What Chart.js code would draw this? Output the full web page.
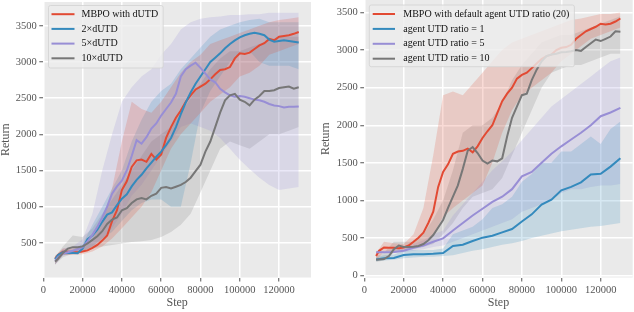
<!DOCTYPE html>
<html>
<head>
<meta charset="utf-8">
<script src="https://cdn.jsdelivr.net/npm/chart.js@4.4.0/dist/chart.umd.min.js"></script>
<style>
  html, body { margin: 0; padding: 0; background: #fff; }
  #wrap { position: relative; width: 634px; height: 312px; }
  .panel { position: absolute; top: 0; width: 317px; height: 312px; }
</style>
</head>
<body>
<div id="wrap">
  <div class="panel" style="left:0"><canvas id="leftChart" width="317" height="312"></canvas></div>
  <div class="panel" style="left:317px"><canvas id="rightChart" width="317" height="312"></canvas></div>
</div>

<script>
// steps (x values)
const stepsFine = [6000, 7500, 10000, 12500, 15000, 17500, 20000, 22500, 25000, 27500, 30000, 32500, 35000, 37500, 40000, 42500, 45000, 47500, 50000, 52500, 55000, 57500, 60000, 62500, 65000, 67500, 70000, 72500, 75000, 77500, 80000, 82500, 85000, 87500, 90000, 92500, 95000, 97500, 100000, 102500, 105000, 107500, 110000, 112500, 115000, 117500, 120000, 122500, 125000, 127500, 130000];
const stepsBand = [6000, 10000, 15000, 20000, 25000, 30000, 35000, 40000, 45000, 50000, 55000, 60000, 65000, 70000, 75000, 80000, 85000, 90000, 95000, 100000, 105000, 110000, 115000, 120000, 125000, 130000];

// tick labels
const xTicks = [0, 20000, 40000, 60000, 80000, 100000, 120000];
const leftYTicks = [500, 1000, 1500, 2000, 2500, 3000, 3500];
const rightYTicks = [0, 500, 1000, 1500, 2000, 2500, 3000, 3500];

// left panel: dUTD variants
const leftLabels = ['MBPO with dUTD', '2\u00d7dUTD', '5\u00d7dUTD', '10\u00d7dUTD'];
const leftMbpo = [280, 330, 375, 375, 370, 370, 380, 395, 430, 470, 530, 600, 800, 950, 1230, 1350, 1550, 1640, 1650, 1620, 1730, 1650, 1720, 1950, 2100, 2230, 2330, 2450, 2540, 2620, 2660, 2700, 2760, 2830, 2890, 2900, 2930, 3050, 3120, 3110, 3130, 3180, 3230, 3260, 3320, 3300, 3350, 3360, 3370, 3390, 3415];
const left2x = [270, 330, 370, 360, 360, 355, 420, 550, 600, 680, 790, 890, 920, 1020, 1110, 1170, 1280, 1370, 1440, 1530, 1610, 1690, 1760, 1850, 1950, 2100, 2280, 2440, 2580, 2700, 2800, 2900, 3000, 3060, 3120, 3190, 3250, 3300, 3340, 3370, 3390, 3405, 3390, 3370, 3310, 3280, 3290, 3300, 3290, 3280, 3270];
const left5x = [250, 300, 350, 370, 390, 410, 440, 520, 610, 720, 850, 1000, 1180, 1280, 1360, 1500, 1700, 1920, 1870, 1960, 2080, 2150, 2260, 2350, 2440, 2560, 2800, 2900, 2950, 2990, 2920, 2840, 2760, 2720, 2630, 2580, 2540, 2520, 2530, 2520, 2500, 2480, 2470, 2450, 2420, 2400, 2390, 2370, 2380, 2380, 2385];
const left10x = [240, 280, 360, 420, 440, 440, 450, 490, 540, 590, 660, 760, 820, 850, 950, 980, 1050, 1100, 1120, 1100, 1150, 1180, 1260, 1270, 1250, 1275, 1300, 1340, 1400, 1490, 1580, 1760, 1900, 2100, 2300, 2470, 2540, 2560, 2480, 2450, 2400, 2480, 2530, 2600, 2600, 2610, 2640, 2650, 2660, 2630, 2650];

const leftMbpoLo = [200, 330, 330, 340, 380, 450, 560, 700, 850, 1000, 1200, 1500, 1800, 2000, 2150, 2300, 2450, 2550, 2650, 2800, 2850, 2950, 3100, 3150, 3200, 3250];
const leftMbpoHi = [320, 420, 420, 430, 560, 800, 1250, 1900, 2450, 2350, 2300, 2450, 2650, 2850, 3000, 3100, 3250, 3300, 3350, 3400, 3450, 3500, 3550, 3580, 3600, 3620];
const left2xLo = [200, 330, 340, 380, 450, 560, 650, 800, 950, 1050, 1100, 1100, 1000, 1000, 1600, 2300, 2600, 2800, 3000, 3100, 3150, 3000, 2950, 2950, 2950, 2900];
const left2xHi = [320, 400, 400, 480, 750, 1000, 1250, 1500, 1900, 2200, 2450, 2600, 2700, 2900, 3050, 3200, 3350, 3450, 3500, 3550, 3580, 3600, 3550, 3550, 3550, 3550];
const left5xLo = [200, 320, 350, 380, 450, 550, 700, 900, 1150, 1300, 1500, 1700, 1900, 2100, 2150, 2100, 2050, 1950, 1800, 1650, 1520, 1400, 1300, 1230, 1250, 1270];
const left5xHi = [300, 420, 450, 550, 900, 1500, 2000, 2450, 2650, 2800, 2900, 3100, 3250, 3450, 3550, 3600, 3620, 3630, 3650, 3650, 3660, 3660, 3680, 3680, 3680, 3680];
const left10xLo = [200, 300, 350, 380, 420, 450, 470, 490, 510, 520, 540, 580, 650, 750, 900, 1200, 1500, 1800, 1900, 1850, 1800, 1900, 2000, 2000, 2050, 2100];
const left10xHi = [300, 450, 600, 580, 700, 900, 1100, 1300, 1500, 1700, 1900, 2000, 2100, 2300, 2500, 2700, 2900, 3050, 3150, 3150, 3200, 3250, 3300, 3350, 3350, 3350];

// right panel: agent UTD ratio
const rightLabels = ['MBPO with default agent UTD ratio (20)', 'agent UTD ratio = 1', 'agent UTD ratio = 5', 'agent UTD ratio = 10'];
const rightMbpo = [260, 330, 375, 370, 370, 365, 375, 400, 450, 505, 570, 700, 850, 1180, 1380, 1480, 1620, 1650, 1660, 1690, 1640, 1720, 1830, 1920, 2000, 2160, 2320, 2420, 2500, 2620, 2670, 2700, 2760, 2820, 2880, 2920, 2940, 3000, 3030, 3040, 3070, 3150, 3200, 3250, 3280, 3310, 3350, 3340, 3350, 3380, 3420];
const rightRatio1 = [215, 230, 235, 275, 285, 285, 290, 300, 395, 410, 460, 505, 530, 575, 620, 720, 815, 945, 1010, 1135, 1180, 1240, 1345, 1355, 1450, 1560];
const rightRatio5 = [310, 310, 315, 330, 370, 400, 450, 495, 600, 700, 800, 890, 980, 1050, 1150, 1320, 1380, 1500, 1620, 1720, 1810, 1900, 2000, 2120, 2170, 2230];
const rightRatio10 = [210, 215, 220, 260, 350, 400, 380, 380, 385, 395, 420, 470, 540, 640, 740, 900, 1050, 1200, 1420, 1660, 1710, 1630, 1530, 1490, 1530, 1520, 1560, 1850, 2100, 2250, 2400, 2420, 2600, 2740, 2850, 2920, 2940, 2950, 2970, 2975, 2985, 3000, 2990, 3040, 3090, 3140, 3120, 3150, 3180, 3250, 3245];

const rightMbpoLo = [200, 320, 330, 340, 380, 430, 550, 780, 900, 1000, 1100, 1200, 1500, 1900, 2200, 2400, 2500, 2600, 2700, 2850, 2950, 3050, 3150, 3200, 3250, 3300];
const rightMbpoHi = [300, 450, 430, 420, 550, 900, 1600, 2400, 2450, 2400, 2550, 2700, 2850, 3000, 3100, 3150, 3200, 3250, 3300, 3350, 3400, 3420, 3450, 3480, 3480, 3500];
const rightRatio1Lo = [190, 200, 210, 230, 240, 250, 250, 260, 270, 300, 330, 350, 380, 410, 430, 460, 500, 530, 560, 590, 610, 630, 650, 660, 680, 700];
const rightRatio1Hi = [240, 270, 280, 330, 340, 340, 340, 360, 550, 600, 650, 750, 900, 950, 1050, 1250, 1350, 1500, 1500, 1650, 1650, 1750, 1850, 1750, 1950, 2050];
const rightRatio5Lo = [290, 300, 300, 310, 330, 350, 380, 400, 450, 500, 550, 600, 650, 700, 750, 850, 900, 950, 1000, 1100, 1150, 1150, 1180, 1200, 1200, 1220];
const rightRatio5Hi = [330, 330, 350, 370, 420, 470, 550, 600, 800, 950, 1100, 1250, 1400, 1520, 1650, 1800, 1950, 2100, 2250, 2350, 2450, 2550, 2650, 2750, 2850, 2900];
const rightRatio10Lo = [180, 200, 300, 330, 350, 380, 420, 550, 700, 900, 1050, 1100, 1150, 1300, 1600, 1900, 2200, 2500, 2700, 2750, 2800, 2800, 2850, 2900, 2950, 2950];
const rightRatio10Hi = [260, 300, 450, 450, 450, 550, 750, 1000, 1400, 1900, 2000, 2000, 2100, 2300, 2600, 2800, 2950, 3100, 3150, 3200, 3200, 3250, 3300, 3350, 3400, 3450];

const RED = '#E24A33', BLUE = '#348ABD', PURPLE = '#988ED5', GRAY = '#777777';
const SERIF = '"Liberation Serif", "Times New Roman", serif';

function toPoints(xs, ys) {
  return ys.map((y, i) => ({ x: xs[i], y: y }));
}

function lineSet(label, xs, ys, color, order) {
  return { label: label, data: toPoints(xs, ys), borderColor: color, borderWidth: 2,
           pointRadius: 0, fill: false, tension: 0, order: order };
}

function bandSets(xs, lo, hi, fillColor) {
  return [
    { data: toPoints(xs, hi), borderWidth: 0, borderColor: 'transparent', pointRadius: 0,
      fill: '+1', backgroundColor: fillColor, order: 10 },
    { data: toPoints(xs, lo), borderWidth: 0, borderColor: 'transparent', pointRadius: 0,
      fill: false, order: 10 }
  ];
}

// gray plot background like the ggplot style
const plotBackground = {
  id: 'plotBackground',
  beforeDraw(chart) {
    const a = chart.chartArea, ctx = chart.ctx;
    ctx.save();
    ctx.fillStyle = '#EAEAEA';
    ctx.fillRect(a.left, a.top, a.right - a.left, a.bottom - a.top);
    ctx.restore();
  }
};

// framed legend drawn inside the plot
const boxLegend = {
  id: 'boxLegend',
  afterDraw(chart, args, o) {
    const ctx = chart.ctx;
    const items = chart.data.datasets.filter(d => d.label);
    ctx.save();
    ctx.font = '10px ' + SERIF;
    let textW = 0;
    items.forEach(d => { textW = Math.max(textW, ctx.measureText(d.label).width); });
    const w = o.textX - o.x + textW + o.padRight;
    ctx.beginPath();
    ctx.roundRect(o.x, o.y, w, o.height, 2);
    ctx.fillStyle = 'rgba(236,236,236,0.8)';
    ctx.fill();
    ctx.strokeStyle = 'rgba(210,210,210,0.8)';
    ctx.lineWidth = 1;
    ctx.stroke();
    items.forEach((d, i) => {
      const ry = o.firstRow + i * o.rowGap;
      ctx.beginPath();
      ctx.moveTo(o.lineX0, ry);
      ctx.lineTo(o.lineX1, ry);
      ctx.strokeStyle = d.borderColor;
      ctx.lineWidth = 2;
      ctx.stroke();
      ctx.fillStyle = '#111';
      ctx.textBaseline = 'middle';
      ctx.fillText(d.label, o.textX, ry);
    });
    ctx.restore();
  }
};

function fixSize(size) {
  return function (scale) {
    if (scale.isHorizontal()) scale.height = size; else scale.width = size;
    scale.paddingTop = 0; scale.paddingBottom = 0;
    scale.paddingLeft = 0; scale.paddingRight = 0;
  };
}

function makeOptions(cfg) {
  const tickFont = { family: SERIF, size: 10.5 };
  const titleFont = { family: SERIF, size: 12, lineHeight: 1 };
  const grid = { color: '#FFFFFF', lineWidth: 1.5, tickColor: '#555555', tickLength: 4, tickWidth: 1 };
  return {
    responsive: false,
    animation: false,
    events: [],
    layout: { padding: { left: 0, right: cfg.padRight, top: cfg.padTop, bottom: 0 } },
    plugins: {
      legend: { display: false },
      tooltip: { enabled: false },
      boxLegend: cfg.legend
    },
    scales: {
      x: {
        type: 'linear', min: 0, max: 136250,
        afterBuildTicks: s => { s.ticks = xTicks.map(v => ({ value: v })); },
        afterFit: fixSize(34.5),
        grid: grid,
        border: { display: false },
        ticks: { font: tickFont, color: '#555555', padding: 2, maxRotation: 0, autoSkip: false,
                 callback: v => String(v) },
        title: { display: true, text: 'Step', font: titleFont, color: '#555555',
                 padding: { top: 0, bottom: 3 } }
      },
      y: {
        type: 'linear', min: cfg.yMin, max: cfg.yMax,
        afterBuildTicks: s => { s.ticks = cfg.yTicks.map(v => ({ value: v })); },
        afterFit: fixSize(cfg.yWidth),
        grid: grid,
        border: { display: false },
        ticks: { font: tickFont, color: '#555555', padding: 2.5, autoSkip: false,
                 callback: v => String(v) },
        title: { display: true, text: 'Return', font: titleFont, color: '#555555',
                 padding: { top: cfg.titlePad, bottom: 0 } }
      }
    }
  };
}

new Chart(document.getElementById('leftChart'), {
  type: 'line',
  data: {
    datasets: [
      lineSet(leftLabels[0], stepsFine, leftMbpo, RED, 4),
      lineSet(leftLabels[1], stepsFine, left2x, BLUE, 3),
      lineSet(leftLabels[2], stepsFine, left5x, PURPLE, 2),
      lineSet(leftLabels[3], stepsFine, left10x, GRAY, 1),
      ...bandSets(stepsBand, leftMbpoLo, leftMbpoHi, 'rgba(226,74,51,0.2)'),
      ...bandSets(stepsBand, left2xLo, left2xHi, 'rgba(52,138,189,0.2)'),
      ...bandSets(stepsBand, left5xLo, left5xHi, 'rgba(152,142,213,0.2)'),
      ...bandSets(stepsBand, left10xLo, left10xHi, 'rgba(119,119,119,0.2)')
    ]
  },
  options: makeOptions({
    padRight: 6, padTop: 2, yMin: 20, yMax: 3830, yTicks: leftYTicks, yWidth: 43.3, titlePad: 0,
    legend: { x: 48.5, y: 5.5, height: 62.5, lineX0: 51.5, lineX1: 74.5, textX: 81.5,
              firstRow: 14.2, rowGap: 14.7, padRight: 5 }
  }),
  plugins: [plotBackground, boxLegend]
});

new Chart(document.getElementById('rightChart'), {
  type: 'line',
  data: {
    datasets: [
      lineSet(rightLabels[0], stepsFine, rightMbpo, RED, 4),
      lineSet(rightLabels[1], stepsBand, rightRatio1, BLUE, 3),
      lineSet(rightLabels[2], stepsBand, rightRatio5, PURPLE, 2),
      lineSet(rightLabels[3], stepsFine, rightRatio10, GRAY, 1),
      ...bandSets(stepsBand, rightMbpoLo, rightMbpoHi, 'rgba(226,74,51,0.2)'),
      ...bandSets(stepsBand, rightRatio1Lo, rightRatio1Hi, 'rgba(52,138,189,0.2)'),
      ...bandSets(stepsBand, rightRatio5Lo, rightRatio5Hi, 'rgba(152,142,213,0.2)'),
      ...bandSets(stepsBand, rightRatio10Lo, rightRatio10Hi, 'rgba(119,119,119,0.2)')
    ]
  },
  options: makeOptions({
    padRight: 1.3, padTop: 0, yMin: -25, yMax: 3666, yTicks: rightYTicks, yWidth: 47.3, titlePad: 3,
    legend: { x: 52.3, y: 5, height: 61.7, lineX0: 55.7, lineX1: 78, textX: 86.3,
              firstRow: 14, rowGap: 14.9, padRight: 5 }
  }),
  plugins: [plotBackground, boxLegend]
});
</script>
</body>
</html>
